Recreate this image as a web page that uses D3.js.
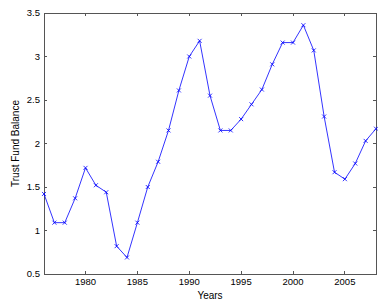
<!DOCTYPE html>
<html>
<head>
<meta charset="utf-8">
<script src="https://cdn.jsdelivr.net/npm/d3@7"></script>
<style>
  body { margin: 0; background: #fff; }
  text { font-family: "Liberation Sans", Arial, sans-serif; fill: #000; }
</style>
</head>
<body>
<div id="chart"></div>
<script>
// data
var years = d3.range(1976, 2009);
var balance = [1.42, 1.09, 1.09, 1.37, 1.72, 1.52, 1.44, 0.82, 0.69, 1.09,
               1.50, 1.79, 2.15, 2.61, 3.00, 3.18, 2.55, 2.15, 2.15, 2.28,
               2.45, 2.62, 2.91, 3.16, 3.16, 3.36, 3.07, 2.31, 1.67, 1.59,
               1.77, 2.03, 2.17];
var xTicks = [1980, 1985, 1990, 1995, 2000, 2005];
var yTicks = [0.5, 1, 1.5, 2, 2.5, 3, 3.5];

var W = 378, H = 307;
var margin = { top: 13, right: 2, bottom: 33, left: 44 }
  , width = W - margin.left - margin.right
  , height = H - margin.top - margin.bottom;

var svg = d3.select('#chart').append('svg')
  .attr('width', W)
  .attr('height', H);

var g = svg.append('g')
  .attr('transform', 'translate(' + margin.left + ',' + margin.top + ')');

var x = d3.scaleLinear().domain([1976, 2008]).range([0, width]);
var y = d3.scaleLinear().domain([0.5, 3.5]).range([height, 0]);

var axisCol = '#555';
var tickLen = 3;

// box
g.append('rect')
  .attr('width', width)
  .attr('height', height)
  .attr('fill', 'none')
  .attr('stroke', axisCol)
  .attr('stroke-width', 1)
  .attr('shape-rendering', 'crispEdges');

// x ticks, inward at bottom and top
var xa = g.append('g').attr('class', 'x ticks');
xa.selectAll('line.b').data(xTicks).enter().append('line')
  .attr('class', 'b')
  .attr('x1', function(d){ return x(d); }).attr('x2', function(d){ return x(d); })
  .attr('y1', height).attr('y2', height - tickLen);
xa.selectAll('line.t').data(xTicks).enter().append('line')
  .attr('class', 't')
  .attr('x1', function(d){ return x(d); }).attr('x2', function(d){ return x(d); })
  .attr('y1', 0).attr('y2', tickLen);
xa.selectAll('text').data(xTicks).enter().append('text')
  .attr('x', function(d){ return x(d); })
  .attr('y', height + 11)
  .attr('text-anchor', 'middle')
  .style('font-size', '9.5px')
  .text(function(d){ return d; });

// y ticks, inward at left and right
var ya = g.append('g').attr('class', 'y ticks');
ya.selectAll('line.l').data(yTicks).enter().append('line')
  .attr('class', 'l')
  .attr('x1', 0).attr('x2', tickLen)
  .attr('y1', function(d){ return y(d); }).attr('y2', function(d){ return y(d); });
ya.selectAll('line.r').data(yTicks).enter().append('line')
  .attr('class', 'r')
  .attr('x1', width).attr('x2', width - tickLen)
  .attr('y1', function(d){ return y(d); }).attr('y2', function(d){ return y(d); });
ya.selectAll('text').data(yTicks).enter().append('text')
  .attr('x', -4)
  .attr('y', function(d){ return y(d); })
  .attr('dy', '0.35em')
  .attr('text-anchor', 'end')
  .style('font-size', '9.5px')
  .text(function(d){ return d; });

g.selectAll('.ticks line')
  .attr('stroke', axisCol)
  .attr('stroke-width', 1)
  .attr('shape-rendering', 'crispEdges');

// labels
svg.append('text')
  .attr('x', margin.left + width / 2)
  .attr('y', 299)
  .attr('text-anchor', 'middle')
  .style('font-size', '10px')
  .text('Years');

svg.append('text')
  .attr('transform', 'translate(19,' + (margin.top + height / 2) + ')rotate(-90)')
  .attr('text-anchor', 'middle')
  .style('font-size', '10px')
  .text('Trust Fund Balance');

// series
var pts = years.map(function(yr, i){ return [yr, balance[i]]; });

var line = d3.line()
  .x(function(d){ return x(d[0]); })
  .y(function(d){ return y(d[1]); });

g.append('path')
  .datum(pts)
  .attr('d', line)
  .attr('fill', 'none')
  .attr('stroke', '#0000ff')
  .attr('stroke-width', 0.8);

var m = 2;
g.append('g')
  .selectAll('path')
  .data(pts)
  .enter().append('path')
  .attr('d', function(d){
    var cx = x(d[0]), cy = y(d[1]);
    return 'M' + (cx - m) + ',' + (cy - m) + 'L' + (cx + m) + ',' + (cy + m) +
           'M' + (cx - m) + ',' + (cy + m) + 'L' + (cx + m) + ',' + (cy - m);
  })
  .attr('stroke', '#0000ff')
  .attr('stroke-width', 0.8)
  .attr('fill', 'none');
</script>
</body>
</html>
